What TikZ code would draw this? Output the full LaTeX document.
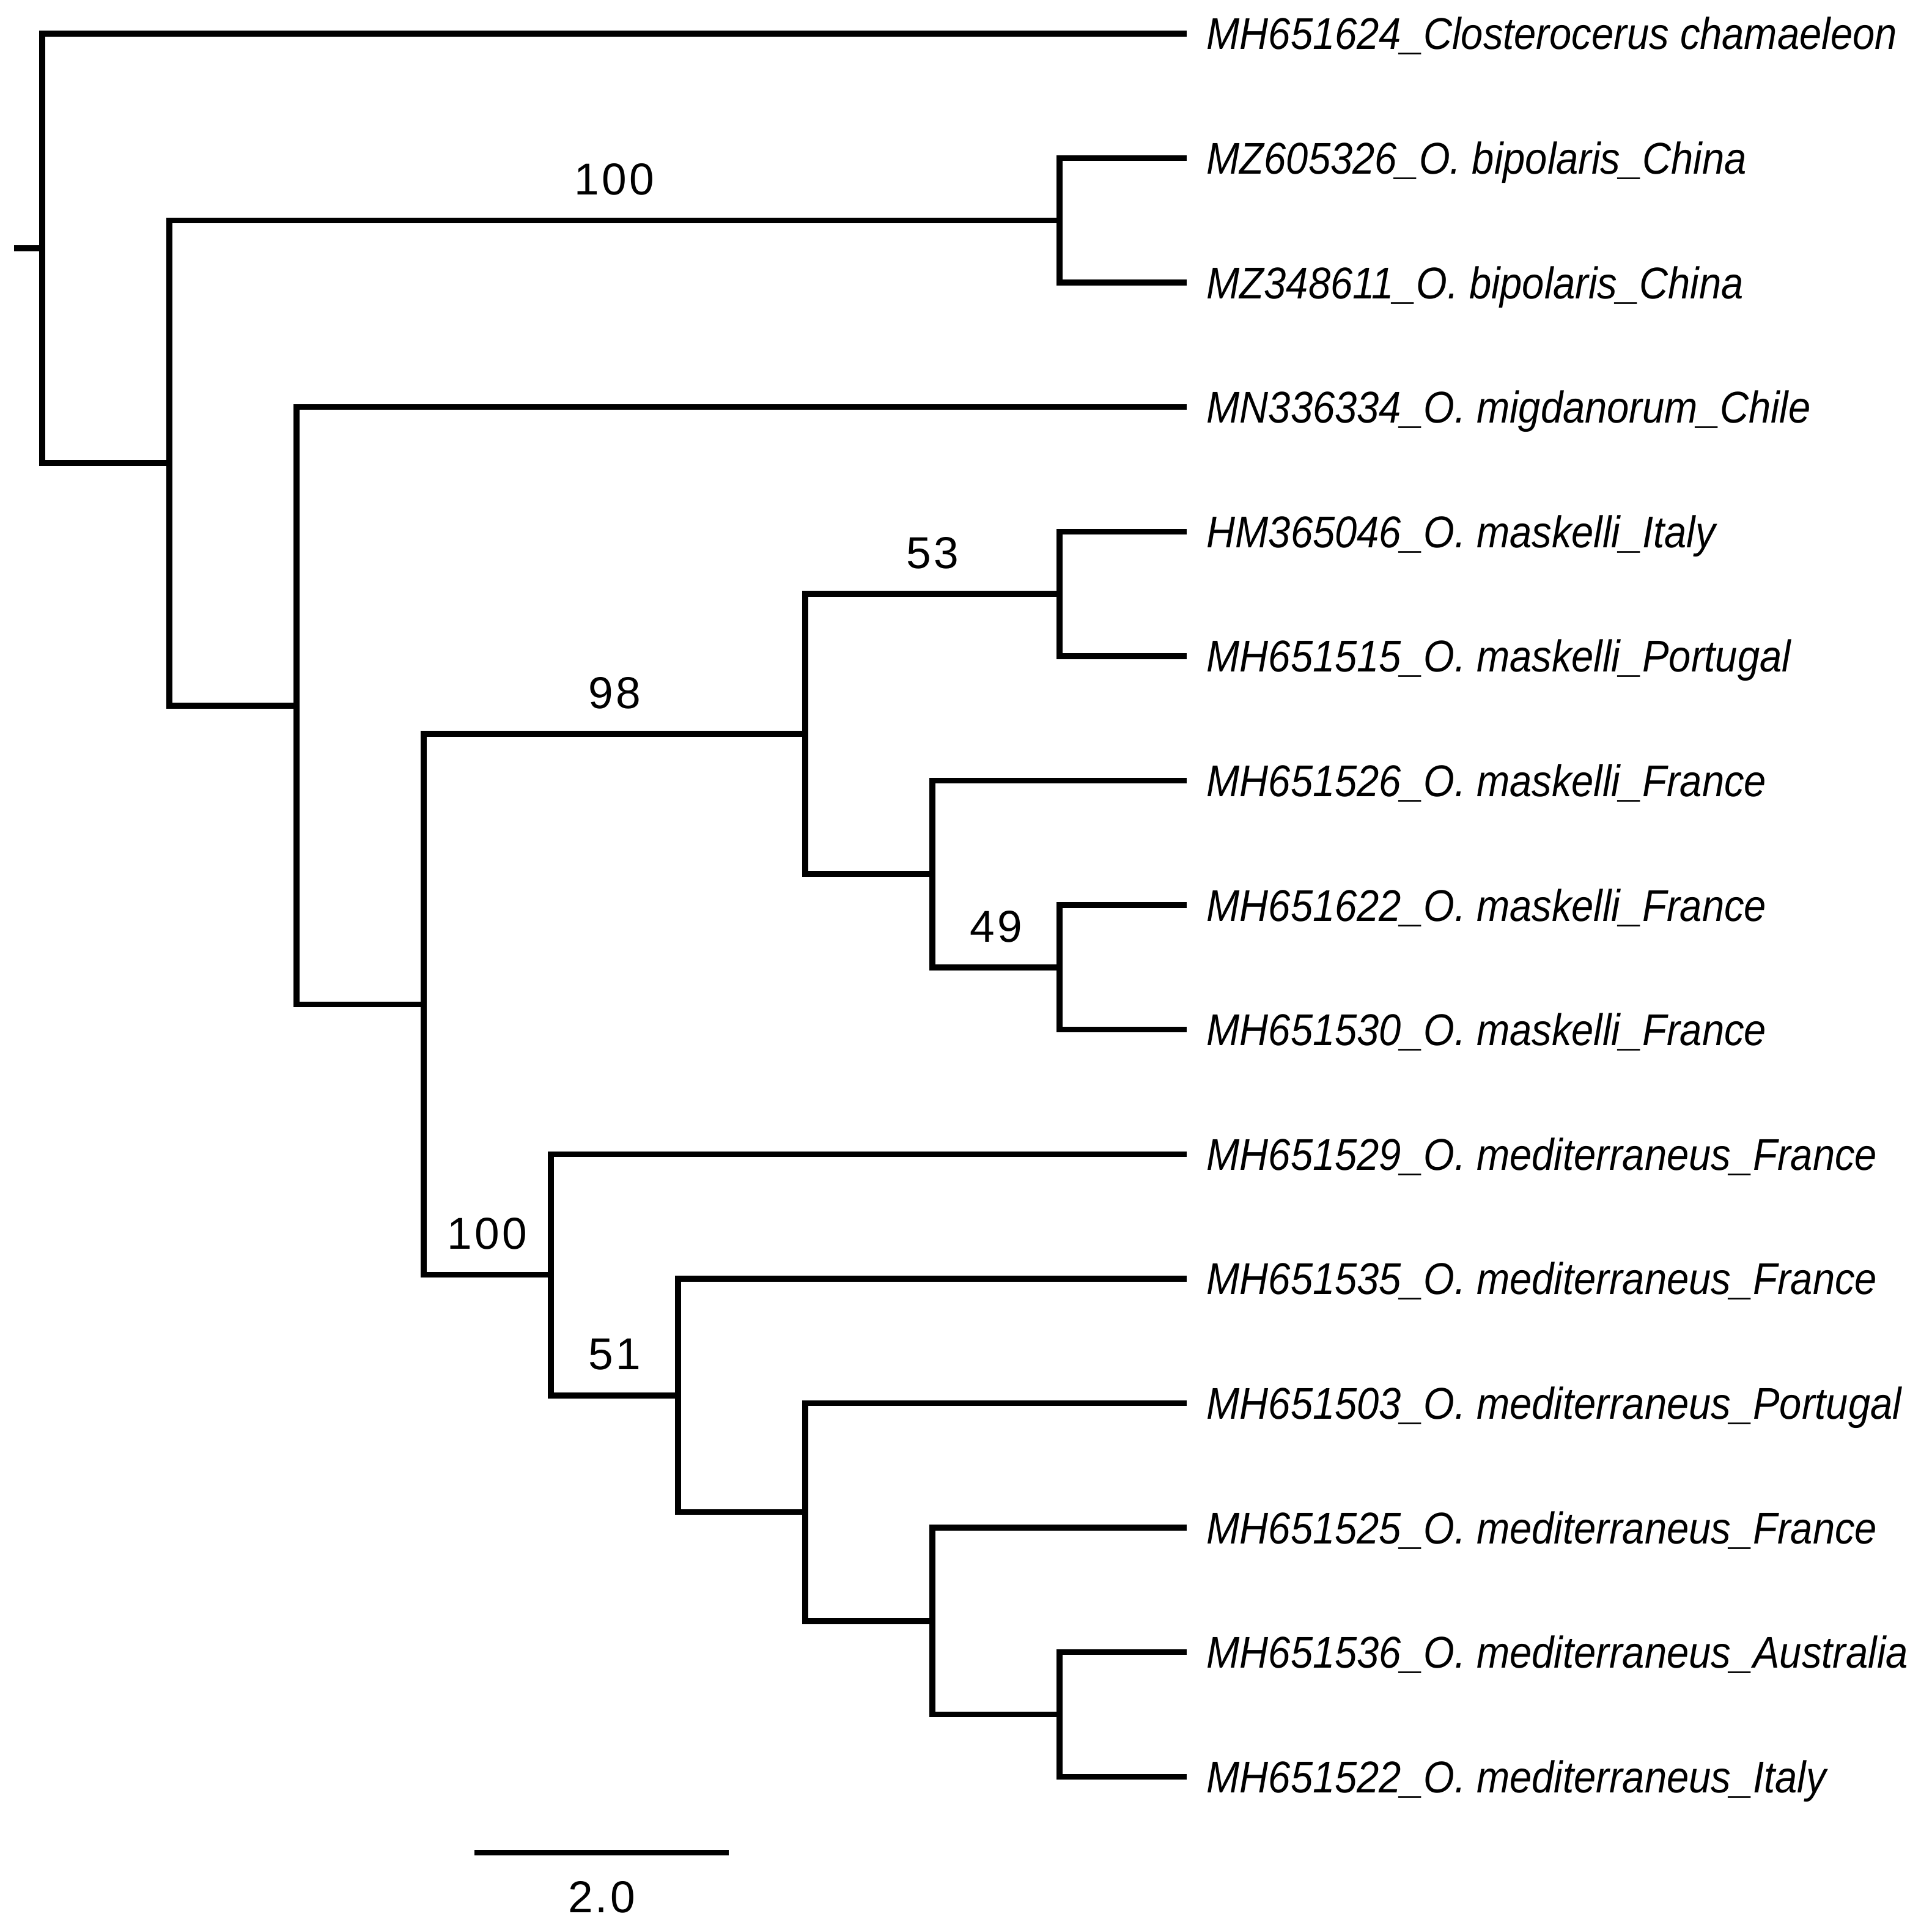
\documentclass[tikz,border=0pt]{standalone}
\usepackage{fontspec}
\setmainfont{Liberation Sans}
\newfontfamily\taxonfont[FakeStretch=0.895]{Liberation Sans}
\newfontfamily\suppfont[LetterSpace=6]{Liberation Sans}

\begin{document}
\begin{tikzpicture}[x=2.08cm,y=2.036cm,line width=0.095cm,
    taxon/.style={anchor=base west,inner sep=0pt,xshift=0.28cm,yshift=-0.26cm,
      font=\fontsize{20.7}{24}\taxonfont\itshape},
    boot/.style={inner sep=0pt,yshift=0.67cm,font=\fontsize{20.8}{24}\suppfont}]
  \useasboundingbox (-0.332,0.270) rectangle (14.861,-15.231);

  % tips
  \coordinate (t1) at (9,0);
  \coordinate (t2) at (9,-1);
  \coordinate (t3) at (9,-2);
  \coordinate (t4) at (9,-3);
  \coordinate (t5) at (9,-4);
  \coordinate (t6) at (9,-5);
  \coordinate (t7) at (9,-6);
  \coordinate (t8) at (9,-7);
  \coordinate (t9) at (9,-8);
  \coordinate (t10) at (9,-9);
  \coordinate (t11) at (9,-10);
  \coordinate (t12) at (9,-11);
  \coordinate (t13) at (9,-12);
  \coordinate (t14) at (9,-13);
  \coordinate (t15) at (9,-14);

  % internal nodes
  \coordinate (stub) at (-0.221,-1.724609);
  \coordinate (root) at (0,-1.724609);
  \coordinate (nA) at (1,-3.449219);
  \coordinate (nBip) at (8,-1.5);
  \coordinate (nB) at (2,-5.398438);
  \coordinate (nC) at (3,-7.796875);
  \coordinate (nD) at (6,-5.625);
  \coordinate (nE) at (8,-4.5);
  \coordinate (nF) at (7,-6.75);
  \coordinate (nG) at (8,-7.5);
  \coordinate (nH) at (4,-9.96875);
  \coordinate (nI) at (5,-10.9375);
  \coordinate (nJ) at (6,-11.875);
  \coordinate (nK) at (7,-12.75);
  \coordinate (nL) at (8,-13.5);

  \draw (stub) -- (root);
  \draw (t1) -| (root) |- (nA);
  \draw (nBip) -| (nA) |- (nB);
  \draw (t2) -| (nBip) |- (t3);
  \draw (t4) -| (nB) |- (nC);
  \draw (nD) -| (nC) |- (nH);
  \draw (nE) -| (nD) |- (nF);
  \draw (t5) -| (nE) |- (t6);
  \draw (t7) -| (nF) |- (nG);
  \draw (t8) -| (nG) |- (t9);
  \draw (t10) -| (nH) |- (nI);
  \draw (t11) -| (nI) |- (nJ);
  \draw (t12) -| (nJ) |- (nK);
  \draw (t13) -| (nK) |- (nL);
  \draw (t14) -| (nL) |- (t15);

  \node[taxon] (l1) at (t1) {MH651624\_Closterocerus chamaeleon};
  \node[taxon] (l2) at (t2) {MZ605326\_O. bipolaris\_China};
  \node[taxon] (l3) at (t3) {MZ348611\_O. bipolaris\_China};
  \node[taxon] (l4) at (t4) {MN336334\_O. migdanorum\_Chile};
  \node[taxon] (l5) at (t5) {HM365046\_O. maskelli\_Italy};
  \node[taxon] (l6) at (t6) {MH651515\_O. maskelli\_Portugal};
  \node[taxon] (l7) at (t7) {MH651526\_O. maskelli\_France};
  \node[taxon] (l8) at (t8) {MH651622\_O. maskelli\_France};
  \node[taxon] (l9) at (t9) {MH651530\_O. maskelli\_France};
  \node[taxon] (l10) at (t10) {MH651529\_O. mediterraneus\_France};
  \node[taxon] (l11) at (t11) {MH651535\_O. mediterraneus\_France};
  \node[taxon] (l12) at (t12) {MH651503\_O. mediterraneus\_Portugal};
  \node[taxon] (l13) at (t13) {MH651525\_O. mediterraneus\_France};
  \node[taxon] (l14) at (t14) {MH651536\_O. mediterraneus\_Australia};
  \node[taxon] (l15) at (t15) {MH651522\_O. mediterraneus\_Italy};

  \node[boot] (sBip) at (4.5,-1.5) {100};
  \node[boot] (sD) at (4.5,-5.625) {98};
  \node[boot] (sE) at (7,-4.5) {53};
  \node[boot] (sG) at (7.5,-7.5) {49};
  \node[boot] (sH) at (3.5,-9.96875) {100};
  \node[boot] (sI) at (4.5,-10.9375) {51};

  % scale bar
  \coordinate (bar1) at (3.4,-14.61);
  \coordinate (bar2) at (5.4,-14.61);
  \draw (bar1) -- (bar2);
  \node[boot,yshift=-1.4cm] (barlabel) at (4.4,-14.61) {2.0};
\end{tikzpicture}
\end{document}
